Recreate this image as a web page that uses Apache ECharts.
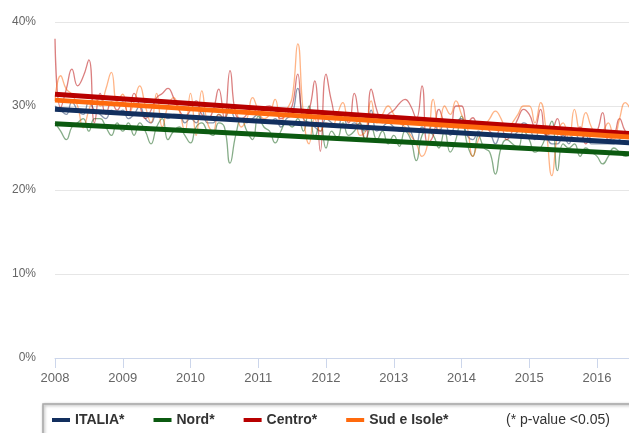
<!DOCTYPE html>
<html>
<head>
<meta charset="utf-8">
<script src="https://cdn.jsdelivr.net/npm/echarts@6/dist/echarts.min.js"></script>
<style>
html,body{margin:0;padding:0;background:#fff;}
#c{width:629px;height:433px;}
</style>
</head>
<body>
<div id="c"></div>
<script>
// Monthly values, Jan 2008 .. Jul 2016
const startYear = 2008;
const italia = [
  30.0, 29.5, 29.0, 30.5, 29.5, 29.0, 30.5, 29.5, 29.0, 28.5, 29.5, 29.0,
  29.5, 28.5, 29.0, 30.0, 28.5, 28.0, 29.0, 29.0, 28.5, 29.0, 29.0, 28.0,
  28.5, 28.0, 29.5, 28.0, 28.0, 29.0, 28.5, 30.0, 28.5, 28.5, 28.0, 28.5,
  29.0, 28.0, 28.0, 28.5, 27.5, 28.5, 29.0, 32.1, 28.5, 28.0, 27.5, 27.0,
  28.5, 28.0, 27.5, 29.0, 27.5, 28.0, 27.5, 27.0, 29.5, 27.0, 27.5, 28.0,
  27.5, 27.0, 28.0, 27.0, 25.5, 27.5, 27.0, 28.0, 27.0, 28.0, 26.5, 28.0,
  28.5, 26.5, 26.0, 27.0, 26.5, 26.5, 25.5, 26.5, 26.5, 26.5, 27.0, 28.0,
  27.5, 26.0, 27.5, 26.5, 25.5, 25.5, 26.5, 25.5, 27.0, 26.0, 26.5, 25.5,
  25.5, 25.5, 25.5, 25.5, 26.0, 26.5, 26.0
];
const nord = [
  28.0, 27.0, 26.0, 27.5, 28.0, 28.5, 27.0, 28.5, 28.5, 27.5, 26.5, 28.0,
  27.0, 28.0, 26.5, 28.0, 27.0, 25.5, 27.5, 28.5, 26.0, 27.0, 27.5, 26.5,
  25.6, 27.5, 28.0, 27.0, 26.5, 28.0, 27.5, 23.2, 26.5, 28.5, 27.0, 26.0,
  28.8, 27.5, 27.0, 25.6, 27.0, 28.0, 27.5, 28.5, 27.0, 30.0, 26.2, 28.0,
  25.0, 27.0, 26.2, 28.0, 26.5, 27.0, 28.0, 26.0, 27.5, 26.0, 27.0, 25.5,
  26.5, 25.2, 27.0, 26.0, 23.5, 26.5, 27.0, 26.5, 25.0, 27.0, 24.5, 26.0,
  28.8, 25.5, 24.0, 26.5, 25.0, 24.5, 21.9, 25.0, 26.0, 25.5, 25.0, 27.0,
  26.0, 24.5, 25.0, 26.5, 28.2, 22.3, 25.5, 25.0, 25.5, 24.0, 25.0, 24.5,
  24.0, 23.1, 24.0, 25.0, 24.5, 24.0, 24.5
];
const centro = [
  38.0, 29.8, 32.0, 34.4, 32.4, 33.5, 35.5, 28.0, 31.5, 29.0, 30.5, 29.5,
  30.5, 29.0, 31.5, 30.0, 28.5, 29.5, 31.0, 31.5, 32.1, 31.0, 29.5, 28.8,
  29.5, 30.6, 29.0, 28.5, 29.5, 32.0, 28.5, 34.2, 29.0, 28.5, 29.0, 29.8,
  29.0, 29.8, 30.0, 29.5, 28.5, 29.0, 30.0, 33.8, 28.6, 29.5, 33.0, 24.6,
  33.8, 30.5, 28.6, 29.0, 28.0, 31.5, 28.0, 25.8, 32.0, 29.5, 28.0, 29.0,
  29.5, 30.3, 30.8, 30.0, 28.5, 32.4, 25.5, 26.5, 29.6, 28.0, 27.5, 30.0,
  30.0, 28.0, 28.6, 27.5, 28.0, 27.0, 26.5, 27.5, 26.0, 27.0, 28.5, 29.6,
  29.0, 27.5, 29.6, 26.5, 27.0, 28.5, 26.0, 27.0, 26.5, 27.5, 25.5, 26.5,
  27.0, 29.2, 26.0, 26.5, 28.5, 27.0, 26.5
];
const sud = [
  30.6, 33.6, 32.0, 31.4, 30.0, 27.4, 29.5, 31.0, 30.0, 32.0, 34.0, 30.5,
  31.4, 29.0, 30.5, 32.4, 30.0, 28.0, 31.5, 27.5, 30.0, 31.0, 29.5, 27.0,
  31.5, 26.5, 31.8, 28.0, 27.0, 29.0, 28.5, 30.0, 29.5, 27.5, 28.5, 31.0,
  29.5, 28.5, 29.0, 30.8, 28.0, 29.5, 31.0, 37.4, 29.0, 25.5, 28.5, 27.0,
  28.0, 27.5, 29.0, 30.4, 28.5, 29.0, 26.5, 27.0, 30.6, 28.0, 29.0, 30.0,
  29.0, 28.0, 27.5, 26.5, 25.5, 24.0, 25.5, 30.8, 27.0, 30.0, 29.0, 30.6,
  29.0, 27.5, 24.0, 26.0, 27.5, 28.5, 29.4, 28.5, 27.0, 28.0, 29.0, 30.0,
  30.0, 28.0, 30.4, 27.0, 21.7, 26.5, 28.0, 26.0, 29.6, 27.0, 29.2, 27.5,
  26.5, 27.0, 28.0, 26.0, 28.5, 30.4, 29.5
];
// Linear trend lines: [value at start, value at end]
const trendX = [2008, 2016.5];
const trendItalia = [29.6, 25.6];
const trendNord = [27.9, 24.3];
const trendCentro = [31.4, 26.7];
const trendSud = [30.7, 26.3];
const yTicks = [0, 10, 20, 30, 40];
const seriesNames = ['ITALIA*', 'Nord*', 'Centro*', 'Sud e Isole*'];
const colors = ['#122f5e', '#0b5a10', '#b80000', '#ff6a0d'];
const noteText = '(* p-value <0.05)';

const FONT = '"Liberation Sans", Arial, sans-serif';
const toPairs = arr => arr.map((v, i) => [startYear + i / 12, v]);
const trendPairs = arr => arr.map((v, i) => [trendX[i], v]);

const monthly = [italia, nord, centro, sud];
const trends = [trendItalia, trendNord, trendCentro, trendSud];

const series = [];
monthly.forEach((arr, k) => {
  series.push({
    name: seriesNames[k] + '_m',
    type: 'line',
    data: toPairs(arr),
    smooth: 0.5,
    showSymbol: false,
    symbol: 'none',
    z: 2,
    silent: true,
    lineStyle: { color: colors[k], width: 1.3, opacity: 0.5 },
    itemStyle: { color: colors[k] }
  });
});
trends.forEach((arr, k) => {
  series.push({
    name: seriesNames[k],
    type: 'line',
    data: trendPairs(arr),
    showSymbol: false,
    symbol: 'none',
    z: 5,
    silent: true,
    lineStyle: { color: colors[k], width: 5 },
    itemStyle: { color: colors[k] }
  });
});

const chart = echarts.init(document.getElementById('c'), null, { renderer: 'canvas' });
chart.setOption({
  animation: false,
  backgroundColor: '#fff',
  grid: { left: 55, right: 0, top: 22, bottom: 75 },
  xAxis: {
    type: 'value',
    min: 2008,
    max: 2016.472,
    interval: 1,
    axisLine: { show: true, lineStyle: { color: '#ccd6eb', width: 1 } },
    axisTick: { show: true, length: 10, lineStyle: { color: '#ccd6eb' } },
    splitLine: { show: false },
    axisLabel: {
      showMaxLabel: false,
      margin: 14,
      color: '#666',
      fontSize: 13,
      fontFamily: FONT,
      formatter: v => (Math.abs(v - Math.round(v)) < 1e-6 ? String(Math.round(v)) : '')
    }
  },
  yAxis: {
    type: 'value',
    min: yTicks[0],
    max: yTicks[yTicks.length - 1],
    interval: 10,
    axisLine: { show: false },
    axisTick: { show: false },
    splitLine: { show: true, lineStyle: { color: '#e6e6e6', width: 1 } },
    axisLabel: {
      margin: 19,
      color: '#666',
      fontSize: 12,
      fontFamily: FONT,
      formatter: '{value}%'
    }
  },
  legend: {
    data: seriesNames,
    left: 52,
    top: 413,
    padding: 0,
    icon: 'rect',
    itemWidth: 18,
    itemHeight: 4,
    itemGap: 29,
    selectedMode: false,
    textStyle: { fontSize: 14, fontWeight: 'bold', color: '#333', fontFamily: FONT }
  },
  graphic: [
    {
      type: 'rect',
      z: -1,
      shape: { x: 43, y: 404, width: 640, height: 60 },
      style: {
        fill: '#fff',
        stroke: '#a8a8a8',
        lineWidth: 1.5,
        shadowBlur: 3,
        shadowColor: 'rgba(0,0,0,0.35)',
        shadowOffsetX: 1,
        shadowOffsetY: 1
      }
    },
    {
      type: 'text',
      x: 506,
      y: 413,
      style: {
        text: noteText,
        fontSize: 14,
        fontFamily: FONT,
        fill: '#333'
      }
    }
  ],
  series: series
});
</script>
</body>
</html>
